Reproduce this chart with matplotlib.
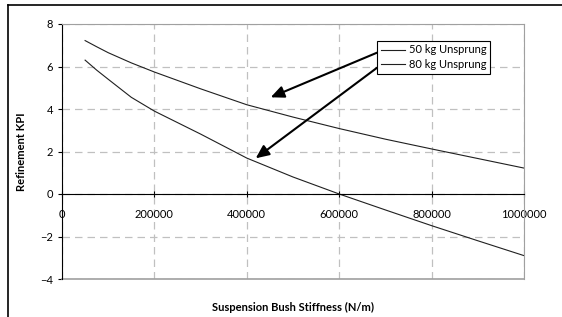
# Refinement KPI vs. suspension bush stiffness for two unsprung masses
import matplotlib.pyplot as plt
from matplotlib.lines import Line2D
from matplotlib.ticker import FormatStrFormatter

stiffness = [50000, 75000, 100000, 150000, 200000, 300000, 400000, 500000, 600000, 700000, 800000, 900000, 1000000]
kpi_50kg = [7.22, 6.93, 6.65, 6.17, 5.74, 4.95, 4.2, 3.62, 3.08, 2.58, 2.12, 1.67, 1.22]
kpi_80kg = [6.3, 5.83, 5.4, 4.55, 3.9, 2.82, 1.69, 0.8, 0.0, -0.75, -1.49, -2.2, -2.9]
series_names = ["50 kg Unsprung", "80 kg Unsprung"]

plt.rcParams["font.family"] = ["Lato", "DejaVu Sans"]
plt.rcParams["font.size"] = 8

fig = plt.figure(figsize=(5.62, 3.17), dpi=100)
ax = fig.add_axes([62 / 562, 1 - 279 / 317, 462 / 562, 255 / 317])

ax.plot(stiffness, kpi_50kg, color="#202020", lw=0.8, label=series_names[0])
ax.plot(stiffness, kpi_80kg, color="#202020", lw=0.8, label=series_names[1])

ax.set_xlim(0, 1000000)
ax.set_ylim(-4, 8)
ax.set_xticks(range(0, 1000001, 200000))
ax.set_yticks(range(-4, 9, 2))
ax.xaxis.set_major_formatter(FormatStrFormatter("%d"))
ax.grid(True, color="#c0c0c0", linestyle=(0, (6, 4)), lw=0.9)

ax.spines["bottom"].set_position(("data", 0))
ax.spines["bottom"].set_color("black")
ax.spines["left"].set_color("black")
for side in ["top", "right"]:
    ax.spines[side].set_color("#a0a0a0")
ax.axhline(-4, color="#a0a0a0", lw=1.2, clip_on=False)
ax.tick_params(axis="x", direction="inout", length=5, pad=8)
ax.tick_params(axis="y", direction="out", length=3)

ax.set_xlabel("Suspension Bush Stiffness (N/m)", fontweight="bold", fontsize=8)
ax.xaxis.set_label_coords(0.5, -0.09)
ax.set_ylabel("Refinement KPI", fontweight="bold", fontsize=8)
ax.yaxis.set_label_coords(-0.075, 0.5)

leg = ax.legend(loc="upper left", bbox_to_anchor=(377 / 562, 1 - 40.5 / 317), bbox_transform=fig.transFigure,
                fancybox=False, edgecolor="black", framealpha=1, borderpad=0.35, handlelength=2.2,
                handletextpad=0.3, labelspacing=0.35, borderaxespad=0, fontsize=8)
leg.get_frame().set_linewidth(0.8)

arrow = dict(arrowstyle="-|>,head_length=1.0,head_width=0.45", color="black", lw=1.5, shrinkA=0, shrinkB=0)
ax.annotate("", xy=(451700, 4.55), xytext=(681800, 6.65), arrowprops=arrow)
ax.annotate("", xy=(419300, 1.68), xytext=(681800, 5.94), arrowprops=arrow)

fig.add_artist(Line2D([8 / 562, 8 / 562], [0, 1 - 5 / 317], color="black", lw=1.2))
fig.add_artist(Line2D([8 / 562, 1], [1 - 5 / 317, 1 - 5 / 317], color="black", lw=1.2))

fig.savefig("out.png", dpi=100)
